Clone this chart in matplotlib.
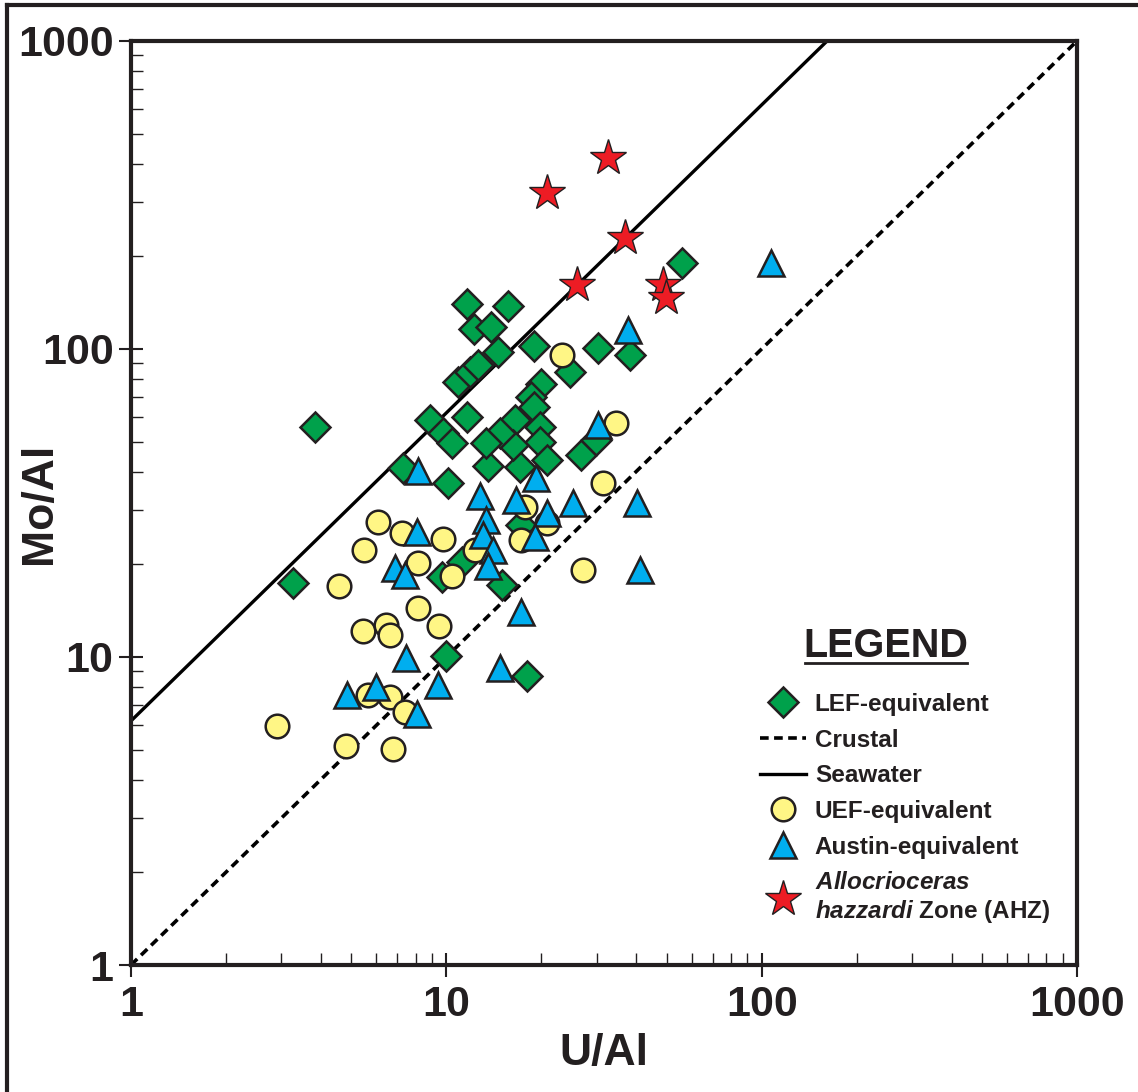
import numpy as np
import matplotlib
matplotlib.use("Agg")
import matplotlib.pyplot as plt
from matplotlib.lines import Line2D
from matplotlib.ticker import LogLocator, FixedLocator, FixedFormatter, NullFormatter

plt.rcParams['font.family'] = ['Liberation Sans', 'DejaVu Sans']
plt.rcParams['font.weight'] = 'bold'
plt.rcParams['mathtext.fontset'] = 'custom'
plt.rcParams['mathtext.it'] = 'Liberation Sans:italic:bold'
plt.rcParams['mathtext.rm'] = 'Liberation Sans:bold'
plt.rcParams['mathtext.bf'] = 'Liberation Sans:bold'

# LEF-equivalent (green diamonds)
lef_u = [3.83, 3.26, 11.6, 15.7, 12.2, 13.9, 14.6, 19.0, 10.9, 11.9, 12.6, 8.87, 9.77, 10.4,
         11.6, 7.3, 10.1, 13.6, 17.1, 11.2, 9.66, 15.0, 10.0, 18.0, 20.0, 24.6, 18.5, 18.9,
         16.5, 19.8, 19.8, 16.3, 20.8, 14.8, 13.4, 26.8, 29.9, 30.3, 38.2, 55.8, 17.3]
lef_mo = [55.8, 17.4, 140, 138, 116, 118, 98, 102, 78, 84, 89, 58.8, 53.2, 49.4,
          60.3, 41.0, 36.8, 41.7, 41.5, 20.4, 18.2, 17.1, 10.1, 8.7, 77, 84, 70, 65,
          58.8, 56, 50, 48.8, 43.6, 53.4, 49.4, 45.3, 50.6, 100.5, 95.7, 190, 26.8]

# UEF-equivalent (yellow circles)
uef_u = [6.08, 7.26, 9.77, 5.48, 8.14, 10.4, 4.56, 12.3, 8.14, 5.45, 6.46, 6.62, 9.49,
         17.7, 17.3, 34.6, 31.4, 20.8, 27.2, 23.2, 2.90, 5.65, 6.62, 7.38, 4.80, 6.78]
uef_mo = [27.5, 25.3, 24.1, 22.3, 20.2, 18.3, 17.0, 22.3, 14.4, 12.1, 12.7, 11.8, 12.6,
          30.8, 24.0, 57.4, 36.6, 27.2, 19.2, 95.6, 5.97, 7.53, 7.43, 6.64, 5.14, 5.02]

# Austin-equivalent (blue triangles)
aus_u = [8.14, 8.1, 6.87, 7.38, 7.44, 4.83, 5.98, 9.42, 8.05, 14.8, 17.3, 12.8, 16.6,
         13.4, 13.1, 14.1, 13.6, 20.8, 19.1, 19.3, 25.2, 40.3, 41.1, 30.3, 37.7, 107]
aus_mo = [40.2, 25.5, 19.5, 18.5, 9.91, 7.53, 8.0, 8.1, 6.53, 9.19, 14.0, 33.2, 32.3,
          27.8, 24.9, 22.3, 19.7, 29.3, 24.6, 38.0, 31.6, 31.6, 19.2, 56.5, 115, 190]

# Allocrioceras hazzardi Zone (red stars)
ahz_u = [20.8, 32.5, 36.8, 25.9, 48.5, 49.6]
ahz_mo = [321, 417, 229, 161, 161, 146]

# reference lines (Mo/Al vs U/Al ratios)
crustal_ratio = 1.0
seawater_ratio = 6.2
line_x = [1, 1000]

edge = '#231f20'

fig = plt.figure(figsize=(11.38, 10.92), dpi=100)
ax = fig.add_axes([0.1151, 0.1163, 0.8313, 0.8462])
ax.set_xscale('log')
ax.set_yscale('log')
ax.set_xlim(1, 1000)
ax.set_ylim(1, 1000)

crust, = ax.plot(line_x, [v * crustal_ratio for v in line_x], color='black', lw=2.6,
                 dashes=(2.4, 1.5), zorder=2, label='Crustal')
sea, = ax.plot(line_x, [v * seawater_ratio for v in line_x], color='black', lw=2.4,
               zorder=2, label='Seawater')

lef, = ax.plot(lef_u, lef_mo, ls='none', marker='D', ms=15, mfc='#00a14b', mec=edge,
               mew=1.8, zorder=3, label='LEF-equivalent')
uef, = ax.plot(uef_u, uef_mo, ls='none', marker='o', ms=17, mfc='#fff685', mec=edge,
               mew=1.8, zorder=4, label='UEF-equivalent')
aus, = ax.plot(aus_u, aus_mo, ls='none', marker='^', ms=19, mfc='#00aeef', mec=edge,
               mew=1.8, zorder=5, label='Austin-equivalent')
ahz, = ax.plot(ahz_u, ahz_mo, ls='none', marker='*', ms=27, mfc='#ed1c24', mec=edge,
               mew=1.0, zorder=6,
               label=r'$\mathit{Allocrioceras}$' + '\n' + r'$\mathit{hazzardi}$ Zone (AHZ)')

# ticks
ax.xaxis.set_major_locator(FixedLocator([1, 10, 100, 1000]))
ax.yaxis.set_major_locator(FixedLocator([1, 10, 100, 1000]))
ax.xaxis.set_major_formatter(FixedFormatter(['1', '10', '100', '1000']))
ax.yaxis.set_major_formatter(FixedFormatter(['1', '10', '100', '1000']))
ax.xaxis.set_minor_locator(LogLocator(base=10, subs=np.arange(2, 10)))
ax.yaxis.set_minor_locator(LogLocator(base=10, subs=np.arange(2, 10)))
ax.xaxis.set_minor_formatter(NullFormatter())
ax.yaxis.set_minor_formatter(NullFormatter())
ax.tick_params(which='major', direction='inout', length=17, width=1.5,
               labelsize=31, pad=4, colors='#231f20')
ax.tick_params(axis='x', which='major', pad=6)
ax.tick_params(which='minor', direction='in', length=8.5, width=1.0, colors='#231f20')
for lab in ax.get_xticklabels() + ax.get_yticklabels():
    lab.set_fontweight('bold')

for sp in ax.spines.values():
    sp.set_linewidth(3)
    sp.set_color('#231f20')

ax.set_xlabel('U/Al', fontsize=32, fontweight='bold', labelpad=6, color='#231f20')
ax.set_ylabel('Mo/Al', fontsize=32, fontweight='bold', color='#231f20')
ax.yaxis.set_label_coords(-0.075, 0.5)

# legend
leg = ax.legend(handles=[lef, crust, sea, uef, aus, ahz], loc='upper left',
                bbox_to_anchor=(0.6680, 1 - 693 / 1092), bbox_transform=fig.transFigure,
                frameon=False, fontsize=17.5, handlelength=1.9, handletextpad=0.35,
                labelspacing=0.52, borderpad=0, borderaxespad=0, numpoints=1)
for t in leg.get_texts():
    t.set_fontweight('bold')
    t.set_color('#231f20')

fig.text(886 / 1138, 1 - 646 / 1092, 'LEGEND', ha='center', va='center',
         fontsize=28.5, fontweight='bold', color='#231f20')
fig.add_artist(Line2D([805 / 1138, 967 / 1138], [1 - 663 / 1092] * 2,
                      color='#231f20', lw=2, transform=fig.transFigure))

# outer frame (top and left)
fig.add_artist(Line2D([7 / 1138, 1.0], [1 - 5 / 1092] * 2, color='#231f20', lw=3,
                      transform=fig.transFigure))
fig.add_artist(Line2D([7 / 1138] * 2, [0.0, 1 - 5 / 1092], color='#231f20', lw=3,
                      transform=fig.transFigure))

fig.savefig('out.png', dpi=100)
